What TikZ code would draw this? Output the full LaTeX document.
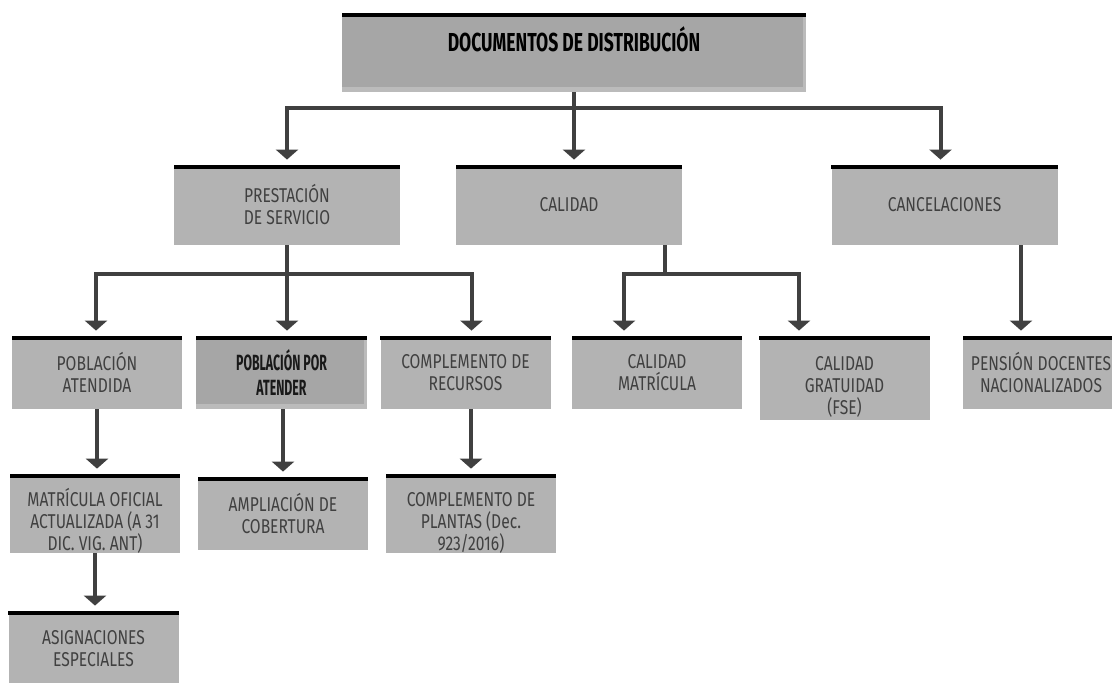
\documentclass[tikz,border=0pt]{standalone}
\usepackage{fontspec}
\usetikzlibrary{arrows.meta,calc}

\newfontfamily\cajafont[FakeStretch=0.78]{Fira Sans}
\newfontfamily\titfont[FakeStretch=0.675]{Fira Sans}
\newfontfamily\negfont[FakeStretch=0.56]{Fira Sans}
\newcommand{\empuje}[1]{\rule{0pt}{#1}}

\definecolor{grisCaja}{HTML}{B3B3B3}
\definecolor{grisOscuro}{HTML}{A6A6A6}
\definecolor{grisBorde}{HTML}{BBBBBB}
\definecolor{grisTexto}{HTML}{404040}
\definecolor{grisLinea}{HTML}{404040}

\tikzset{
	caja/.style={rectangle, fill=grisCaja, inner sep=0pt, align=center, text=grisTexto,
		font=\cajafont\fontsize{10pt}{11pt}\selectfont},
	nivelA/.style={caja, minimum width=113pt, minimum height=40pt},
	nivelB/.style={caja, minimum width=85pt, minimum height=36.5pt},
	oscura/.style={fill=grisBorde, path picture={\fill[grisOscuro] (path picture bounding box.north west) rectangle ([xshift=-1.5pt,yshift=2.5pt]path picture bounding box.south east);}},
	negrita/.style={text=black!90, font=\negfont\bfseries\fontsize{11pt}{12.5pt}\selectfont},
	linea/.style={draw=grisLinea, line width=2pt},
	flecha/.style={linea, -{Triangle[width=11pt,length=5pt]}, shorten >=2.5pt},
}

\begin{document}
\begin{tikzpicture}[x=0.5pt,y=-0.5pt]
	%%%%% START %%%%%
	\useasboundingbox (0,0) rectangle (1112,683);
	
	\node[caja, oscura, minimum width=232pt, minimum height=39.5pt, text=black,
		font=\titfont\bfseries\fontsize{13pt}{14pt}\selectfont, text height=9pt, text depth=9.5pt]
		(doc) at (574,52.5) {DOCUMENTOS DE DISTRIBUCIÓN};
	
	\node[nivelA] (prest) at (287,205) {PRESTACIÓN\\DE SERVICIO};
	\node[nivelA] (cal) at (569,205) {CALIDAD};
	\node[nivelA] (canc) at (944.5,205) {CANCELACIONES};
	
	\node[nivelB] (aten) at (97,372.5) {POBLACIÓN\\ATENDIDA};
	\node[nivelB, oscura, negrita, minimum width=85.5pt] (poraten) at (281.5,372.5) {POBLACIÓN POR\\ATENDER};
	\node[nivelB] (recur) at (465.5,372.5) {COMPLEMENTO DE\\RECURSOS};
	\node[nivelB] (calmat) at (657,372.5) {CALIDAD\\MATRÍCULA};
	\node[nivelB, minimum height=42pt] (calgrat) at (844.5,378) {\empuje{16pt}CALIDAD\\GRATUIDAD\\(FSE)};
	\node[nivelB, minimum width=78pt] (pension) at (1041,372.5) {PENSIÓN DOCENTES\\NACIONALIZADOS};
	
	\node[nivelB] (mat) at (95,513.5) {\empuje{16pt}MATRÍCULA OFICIAL\\ACTUALIZADA (A 31\\DIC. VIG. ANT)};
	\node[nivelB] (amp) at (283,513.5) {AMPLIACIÓN DE\\COBERTURA};
	\node[nivelB] (plan) at (471,513.5) {\empuje{16pt}COMPLEMENTO DE\\PLANTAS (Dec.\\923/2016)};
	
	\node[nivelB, minimum height=38pt] (asign) at (93.5,649) {ASIGNACIONES\\ESPECIALES};
	
	% barras negras
	\foreach \n in {doc,prest,cal,canc,aten,poraten,recur,calmat,calgrat,pension,mat,amp,plan,asign}
		\fill[black] (\n.north west) rectangle ([yshift=-2pt]\n.north east);
	
	% conectores
	\draw[linea] (doc.south) -- ++(0,16) coordinate (r1);
	\draw[flecha] (r1) -| (prest.north);
	\draw[flecha] (doc.south) -- (doc.south |- cal.north);
	\draw[flecha] (r1) -| ([xshift=-2pt]canc.north);
	
	\draw[linea] (prest.south) -- ++(0,29) coordinate (r2);
	\draw[flecha] (r2) -| ([xshift=-0.5pt]aten.north);
	\draw[flecha] (prest.south) -- (prest.south |- poraten.north);
	\draw[flecha] (r2) -| ([xshift=3pt]recur.north);
	
	\draw[linea] ([xshift=48pt]cal.south) -- ++(0,29) coordinate (r3);
	\draw[flecha] (r3) -| ([xshift=-16.5pt]calmat.north);
	\draw[flecha] (r3) -| ([xshift=-22.75pt]calgrat.north);
	
	\draw[flecha] ($(pension.north |- canc.south)+(-20,0)$) -- ($(pension.north)+(-20,0)$);
	
	\draw[flecha] (aten.south) -- (aten.south |- mat.north);
	\draw[flecha] (amp.north |- poraten.south) -- (amp.north);
	\draw[flecha] (plan.north |- recur.south) -- (plan.north);
	\draw[flecha] (mat.south) -- (mat.south |- asign.north);
	%%%%% END %%%%%
\end{tikzpicture}
\end{document}
